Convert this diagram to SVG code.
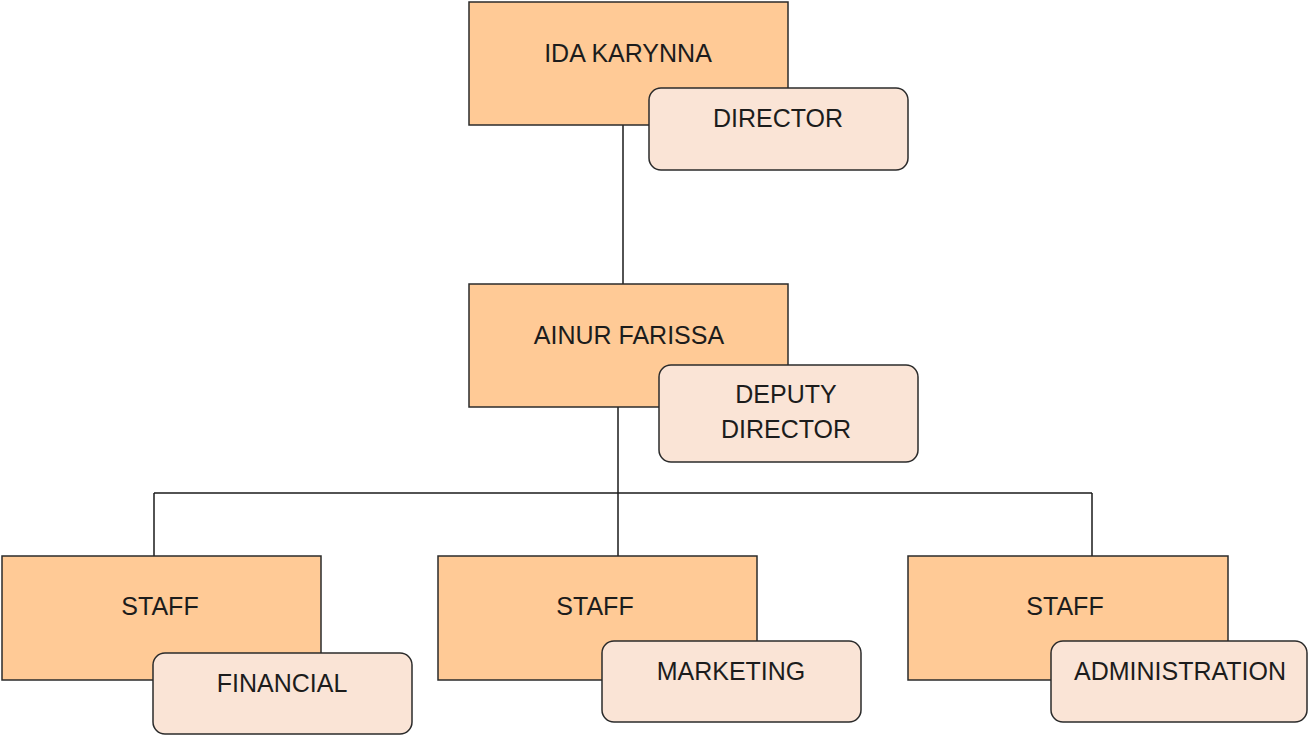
<svg xmlns="http://www.w3.org/2000/svg" width="1309" height="736" viewBox="0 0 1309 736">
<style>
.box{fill:#FFCA96;stroke:#2b2b2b;stroke-width:1.5}
.lab{fill:#FAE4D6;stroke:#2b2b2b;stroke-width:1.5}
.t{font-family:"Liberation Sans",Arial,sans-serif;font-size:25px;fill:#1c1c1c;text-anchor:middle}
.c{stroke:#1a1a1a;stroke-width:1.5;fill:none}
</style>
<rect width="1309" height="736" fill="#ffffff"/>
<g id="connectors">
<line class="c" x1="623" y1="125" x2="623" y2="284"/>
<line class="c" x1="618" y1="407" x2="618" y2="556"/>
<line class="c" x1="154" y1="493" x2="1092" y2="493"/>
<line class="c" x1="154" y1="493" x2="154" y2="556"/>
<line class="c" x1="1092" y1="493" x2="1092" y2="556"/>
</g>
<g id="node-ida">
<rect class="box" x="469" y="2" width="319" height="123"/>
<text class="t" x="628" y="62">IDA KARYNNA</text>
<rect class="lab" x="649" y="88" width="259" height="82" rx="12"/>
<text class="t" x="778" y="127">DIRECTOR</text>
</g>
<g id="node-ainur">
<rect class="box" x="469" y="284" width="319" height="123"/>
<text class="t" x="629" y="344">AINUR FARISSA</text>
<rect class="lab" x="659" y="365" width="259" height="97" rx="12"/>
<text class="t" x="786" y="403">DEPUTY</text>
<text class="t" x="786" y="438">DIRECTOR</text>
</g>
<g id="node-staff-financial">
<rect class="box" x="2" y="556" width="319" height="124"/>
<text class="t" x="160" y="615">STAFF</text>
<rect class="lab" x="153" y="653" width="259" height="81" rx="12"/>
<text class="t" x="282" y="692">FINANCIAL</text>
</g>
<g id="node-staff-marketing">
<rect class="box" x="438" y="556" width="319" height="124"/>
<text class="t" x="595" y="615">STAFF</text>
<rect class="lab" x="602" y="641" width="259" height="81" rx="12"/>
<text class="t" x="731" y="680">MARKETING</text>
</g>
<g id="node-staff-admin">
<rect class="box" x="908" y="556" width="320" height="124"/>
<text class="t" x="1065" y="615">STAFF</text>
<rect class="lab" x="1051" y="641" width="256" height="81" rx="12"/>
<text class="t" x="1180" y="680">ADMINISTRATION</text>
</g>
</svg>
